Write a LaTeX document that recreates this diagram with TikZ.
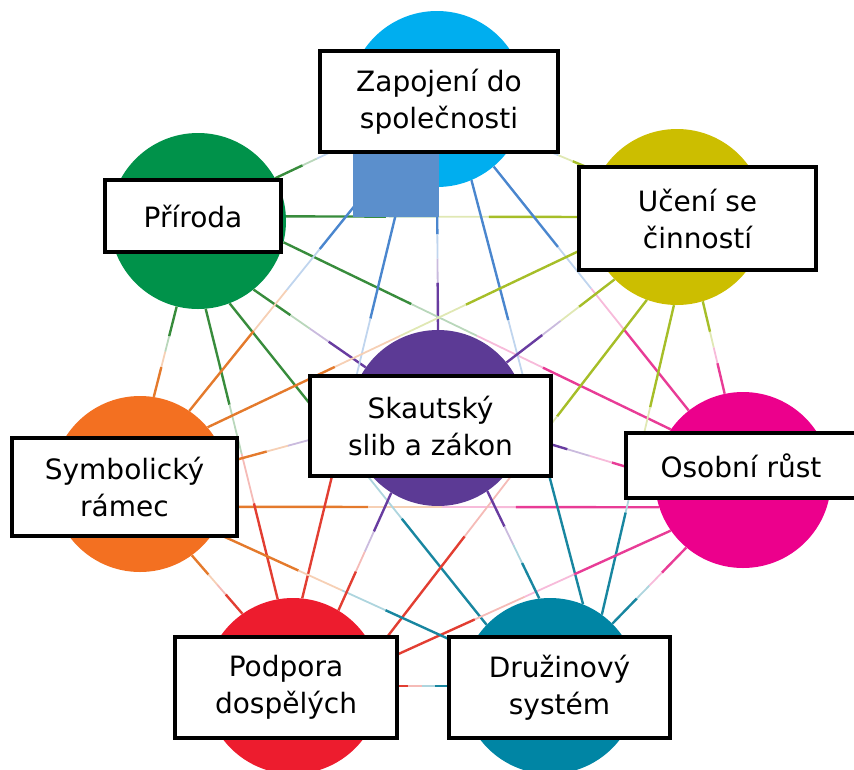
\documentclass[tikz,border=0pt]{standalone}
\usepackage{fontspec}
\setmainfont{DejaVu Sans}
\usetikzlibrary{calc}

% disc fills
\definecolor{cbl}{HTML}{00AEEF}
\definecolor{cgr}{HTML}{00924A}
\definecolor{cye}{HTML}{CCBE00}
\definecolor{cor}{HTML}{F37021}
\definecolor{cma}{HTML}{EC008C}
\definecolor{cre}{HTML}{ED1C2E}
\definecolor{cte}{HTML}{0085A4}
\definecolor{cpu}{HTML}{5C3A95}
\definecolor{crect}{HTML}{5B8FCC}
% web line colours
\definecolor{lbl}{HTML}{4A86CE}
\definecolor{lgr}{HTML}{388C3C}
\definecolor{lye}{HTML}{A6BE28}
\definecolor{lor}{HTML}{E47A2C}
\definecolor{lma}{HTML}{E83C96}
\definecolor{lre}{HTML}{E23E32}
\definecolor{lte}{HTML}{1886A0}
\definecolor{lpu}{HTML}{683CA0}

\begin{document}
\begin{tikzpicture}[x=1pt, y=-1pt,
		disc/.style={circle, minimum size=176pt, inner sep=0pt},
		namebox/.style={draw, line width=3.5pt, fill=white, align=center, inner sep=0pt,
			font=\fontsize{28}{37}\selectfont},
		web/.style={line width=2.4pt},
		webfade/.style={line width=1.8pt}]
		
		\useasboundingbox (0,0) rectangle (854,769);
		
		% ---------- Discs ----------
		\node[disc, fill=cbl] (bl) at (437,99)  {};
		\node[disc, fill=cgr] (gr) at (198,221) {};
		\node[disc, fill=cye] (ye) at (677,217) {};
		\node[disc, fill=cor] (or) at (140,484) {};
		\node[disc, fill=cma] (ma) at (743,480) {};
		\node[disc, fill=cre] (re) at (293,686) {};
		\node[disc, fill=cte] (te) at (550,686) {};
		\node[disc, fill=cpu] (pu) at (438,418) {};
		
		% ---------- Web: one line per pair, coloured at both ends ----------
		\foreach \a/\b/\ca/\cb in {
			gr.3/ye.180/lgr/lye, or.-15/ma.198/lor/lma, re.0/te.180/lre/lte,
			bl.-90/pu.90/lbl/lpu, gr.-51/pu.145/lgr/lpu, gr.-14/ma.145/lgr/lma,
			gr.-104/or.81/lgr/lor, gr.-85/re.100/lgr/lre, gr.-69/te.136/lgr/lte,
			gr.29/bl.207/lgr/lbl, bl.-26/ye.150/lbl/lye, bl.-127/or.56/lbl/lor,
			bl.-112/re.84/lbl/lre, bl.-67/te.68/lbl/lte, bl.-50/ma.128/lbl/lma,
			ye.198/or.40/lye/lor, ye.225/pu.39/lye/lpu, ye.-110/re.22/lye/lre,
			ye.-92/te.54/lye/lte, ye.-73/ma.102/lye/lma, ma.177/pu.-12/lma/lpu,
			ma.215/re.15/lma/lre, ma.230/te.45/lma/lte, or.14/pu.187/lor/lpu,
			or.-54/re.125/lor/lre, or.-33/te.155/lor/lte, pu.238/re.59/lpu/lre,
			pu.-56/te.97/lpu/lte}{
			\draw[web, draw=\ca] (\a) -- ($(\a)!0.33!(\b)$);
			\draw[webfade, draw=\ca!35!white] ($(\a)!0.33!(\b)$) -- ($(\a)!0.5!(\b)$);
			\draw[webfade, draw=\cb!35!white] ($(\a)!0.5!(\b)$) -- ($(\a)!0.67!(\b)$);
			\draw[web, draw=\cb] ($(\a)!0.67!(\b)$) -- (\b);
		}
		
		\fill[crect] (353,154) rectangle (439,217);
		
		% ---------- Name boxes ----------
		\node[namebox, minimum width=238pt, minimum height=101pt] (tbl) at (439,101.5) {Zapojení do\\společnosti};
		\node[namebox, minimum width=176pt, minimum height=72pt]  (tgr) at (193,216)   {Příroda};
		\node[namebox, minimum width=237pt, minimum height=103pt] (tye) at (697.5,218.5) {Učení se\\činností};
		\node[namebox, minimum width=225pt, minimum height=98pt]  (tor) at (124.5,487) {Symbolický\\rámec};
		\node[namebox, minimum width=230pt, minimum height=65pt]  (tma) at (741,465.5) {Osobní růst};
		\node[namebox, minimum width=222pt, minimum height=101pt] (tre) at (286,687.5) {Podpora\\dospělých};
		\node[namebox, minimum width=221pt, minimum height=101pt] (tte) at (559.5,687.5) {Družinový\\systém};
		\node[namebox, minimum width=241pt, minimum height=100pt] (tpu) at (430.5,426) {Skautský\\slib a zákon};
		
	\end{tikzpicture}
\end{document}
